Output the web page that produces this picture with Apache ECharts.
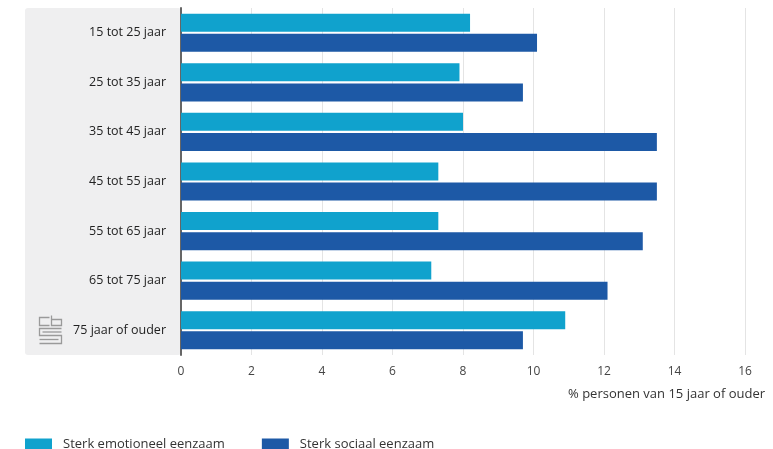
<!DOCTYPE html>
<html><head><meta charset="utf-8">
<script src="https://cdn.jsdelivr.net/npm/echarts@6/dist/echarts.min.js"></script>
<style>html,body{margin:0;padding:0;background:#fff}#c{width:773px;height:449px}</style>
</head><body><div id="c"></div>
<script>
const categories = ['15 tot 25 jaar','25 tot 35 jaar','35 tot 45 jaar','45 tot 55 jaar','55 tot 65 jaar','65 tot 75 jaar','75 jaar of ouder'];
const emotioneel = [8.2, 7.9, 8.0, 7.3, 7.3, 7.1, 10.9];
const sociaal = [10.1, 9.7, 13.5, 13.5, 13.1, 12.1, 9.7];
const seriesNames = ['Sterk emotioneel eenzaam','Sterk sociaal eenzaam'];
const axisName = '% personen van 15 jaar of ouder';

const font = '"Open Sans", Lato, sans-serif';
const chart = echarts.init(document.getElementById('c'));
const logoStroke = {stroke:'#9a9a9a', lineWidth:1.3, fill:null};
chart.setOption({
  animation:false,
  textStyle:{fontFamily:font},
  grid:{left:181, right:28, top:8, bottom:94, containLabel:false},
  graphic:[
    {type:'rect', z:-10, shape:{x:25,y:8,width:156,height:347,r:3}, style:{fill:'#efeff0'}},
    {type:'group', left:37, top:313, children:[
      {type:'polyline', shape:{points:[[10,2],[0,2],[0,10],[10,10]]}, style:logoStroke},
      {type:'polyline', shape:{points:[[12,0],[12,10],[22,10],[22,4],[12,4]]}, style:logoStroke},
      {type:'polyline', shape:{points:[[22,13],[0,13],[0,20],[22,20],[22,28],[0,28]]}, style:logoStroke},
      {type:'polyline', shape:{points:[[3,16.5],[22,16.5]]}, style:logoStroke},
      {type:'polyline', shape:{points:[[0,24],[19,24]]}, style:logoStroke}
    ]}
  ],
  legend:{left:20, top:433, itemWidth:27, itemHeight:12, itemGap:37, icon:'rect',
    textStyle:{fontSize:13, color:'#333', fontFamily:font, padding:[0,0,0,6]},
    data:seriesNames},
  xAxis:{type:'value', min:0, max:16, interval:2,
    axisLine:{show:false}, axisTick:{show:false},
    axisLabel:{fontSize:12, color:'#444', margin:11},
    splitLine:{lineStyle:{color:'#e4e4e4'}},
    name:axisName, nameLocation:'end', nameGap:20,
    nameTextStyle:{align:'right', verticalAlign:'top', fontSize:13, color:'#333', padding:[33,0,0,0]}},
  yAxis:{type:'category', data:categories, inverse:true,
    axisLine:{show:true, lineStyle:{color:'#666', width:2}}, axisTick:{show:false},
    axisLabel:{fontSize:12.5, color:'#222', margin:15}},
  series:[
    {name:seriesNames[0], type:'bar', data:emotioneel, barWidth:18, barGap:'12%', itemStyle:{color:'#10a2cd'}},
    {name:seriesNames[1], type:'bar', data:sociaal, barWidth:18, barGap:'12%', itemStyle:{color:'#1d59a6'}}
  ]
});
</script></body></html>
